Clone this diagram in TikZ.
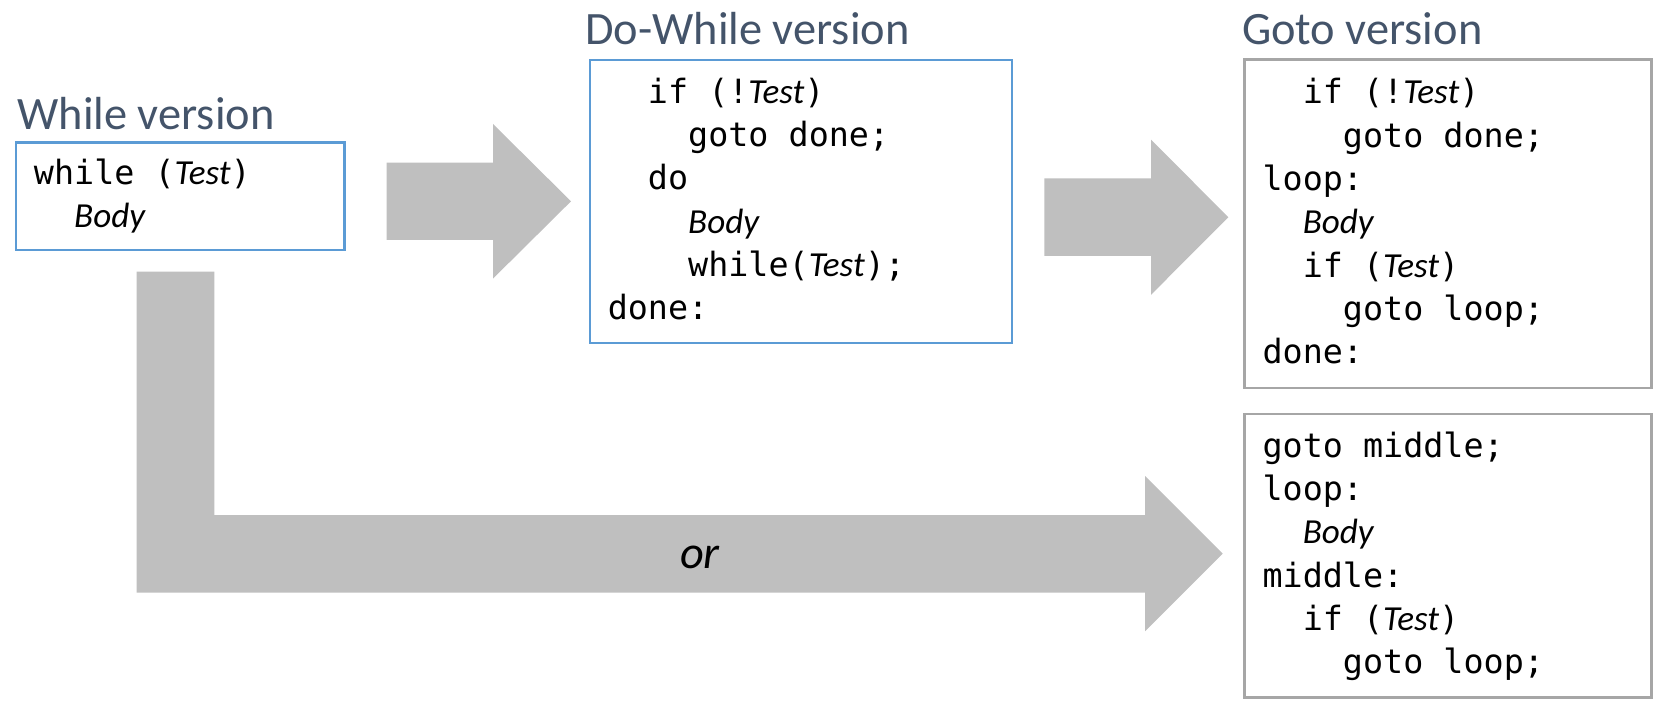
\documentclass[tikz,border=0pt]{standalone}
\usepackage{fontspec}
\setmainfont{Carlito}
\newfontfamily\codefont{DejaVu Sans Mono}[Scale=0.95]
\usetikzlibrary{positioning}
\definecolor{titlecol}{HTML}{44546A}
\definecolor{boxblue}{HTML}{5B9BD5}
\definecolor{boxgray}{HTML}{A6A6A6}
\definecolor{arrowgray}{HTML}{BFBFBF}
\newcommand{\cvar}[1]{{\rmfamily\itshape #1}}
\newcommand{\cstrut}{\rule[-3.33pt]{0pt}{12.33pt}}
\newcommand{\csp}{\hphantom{0}}
\tikzset{
 versiontitle/.style={inner sep=0,text=titlecol,font=\fontsize{13.2pt}{15pt}\selectfont},
 codebox/.style={draw,line width=0.25mm,inner xsep=1.8mm,inner ysep=0,anchor=north west,align=left,font=\fontsize{10pt}{12.33pt}\selectfont\codefont},
 bluebox/.style={codebox,draw=boxblue},
 graybox/.style={codebox,draw=boxgray},
 blockarrow/.style={fill=arrowgray}
}
\begin{document}
\begin{tikzpicture}[x=0.1mm,y=-0.1mm]
\useasboundingbox(0,0)rectangle(1658,704);
\fill[blockarrow](386.5,162.6)--++(106.5,0)--++(0,-38.6)--++(78,77.3)--++(-78,77.3)--++(0,-38.6)--++(-106.5,0)--cycle;
\fill[blockarrow](1044.4,178.4)--++(106.6,0)--++(0,-38.8)--++(77.3,77.6)--++(-77.3,77.6)--++(0,-38.8)--++(-106.6,0)--cycle;
\fill[blockarrow](136.5,271.7)--++(77.8,0)--++(0,243.3)--++(930.9,0)--++(0,-38.8)--++(77.5,77.5)--++(-77.5,77.5)--++(0,-38.7)--++(-1008.7,0)--cycle;
\node[bluebox,text width=29.23mm,minimum height=10.74mm](whilebox)at(14.7,141.3){%
\cstrut while\csp(\cvar{Test})\\
\cstrut\csp\csp\cvar{Body}};
\node[bluebox,text width=38.63mm,minimum height=28.27mm](dwbox)at(588.5,59){%
\cstrut\csp\csp if\csp(!\cvar{Test})\\
\cstrut\csp\csp\csp\csp goto\csp done;\\
\cstrut\csp\csp do\\
\cstrut\csp\csp\csp\csp\cvar{Body}\\
\cstrut\csp\csp\csp\csp while(\cvar{Test});\\
\cstrut done:};
\node[graybox,text width=37.07mm,minimum height=32.84mm](gotobox)at(1243.3,58.3){%
\cstrut\csp\csp if\csp(!\cvar{Test})\\
\cstrut\csp\csp\csp\csp goto\csp done;\\
\cstrut loop:\\
\cstrut\csp\csp\cvar{Body}\\
\cstrut\csp\csp if\csp(\cvar{Test})\\
\cstrut\csp\csp\csp\csp goto\csp loop;\\
\cstrut done:};
\node[graybox,text width=37.07mm,minimum height=28.33mm](middlebox)at(1243.3,412.7){%
\cstrut goto\csp middle;\\
\cstrut loop:\\
\cstrut\csp\csp\cvar{Body}\\
\cstrut middle:\\
\cstrut\csp\csp if\csp(\cvar{Test})\\
\cstrut\csp\csp\csp\csp goto\csp loop;};
\node[versiontitle,above=1.13mm of whilebox.north west,anchor=base west,xshift=0.2mm](whiletitle){While version};
\node[versiontitle,above=1.47mm of dwbox.north west,anchor=base west,xshift=-0.4mm](dwtitle){Do-While version};
\node[versiontitle,above=1.4mm of gotobox.north west,anchor=base west,xshift=-0.2mm](gototitle){Goto version};
\node[inner sep=0,anchor=base,font=\fontsize{13.2pt}{15pt}\selectfont\itshape](ortext)at(700,568){or};
\end{tikzpicture}
\end{document}
